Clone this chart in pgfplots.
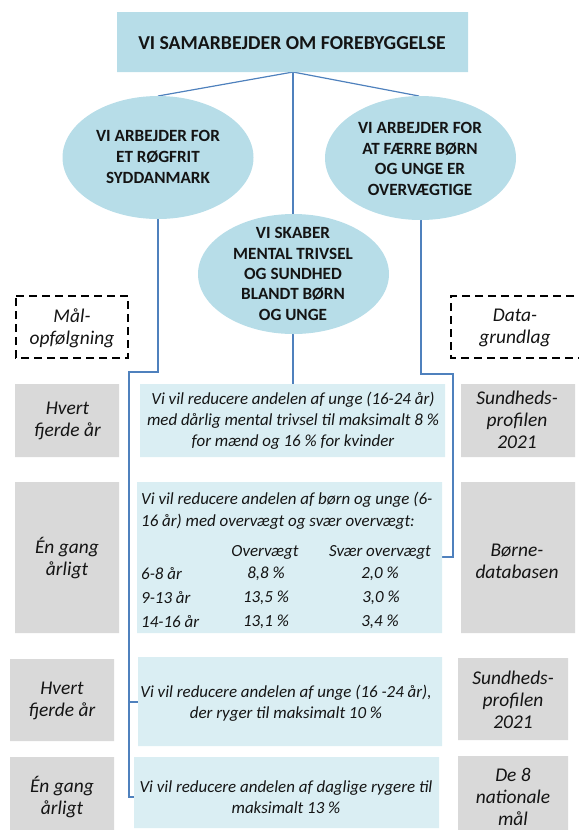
\documentclass[border=0pt]{standalone}
\usepackage{pgfplots}
\pgfplotsset{compat=1.18}
\usepackage{fontspec}
\setmainfont{Carlito}
\definecolor{ell}{RGB}{183,221,232}
\definecolor{lbox}{RGB}{218,238,243}
\definecolor{gbox}{RGB}{217,217,217}
\definecolor{con}{RGB}{79,129,189}
\definecolor{txt}{RGB}{20,20,20}
\begin{document}
\begin{tikzpicture}
\path[use as bounding box] (0,0) rectangle (579bp,830bp);
\clip (0,0) rectangle (579bp,830bp);
\begin{axis}[width=579bp,height=830bp,scale only axis,
  xmin=0,xmax=579,ymin=0,ymax=830,y dir=reverse,hide axis,clip=false]
% connector lines
\addplot[con,line width=1.2bp] coordinates {(158,96) (293,72) (419,96)};
\addplot[con,line width=1.2bp] coordinates {(293,72) (293,214)};
\addplot[con,line width=1.2bp] coordinates {(158,219) (158,372) (129,372) (129,797) (135,797)};
\addplot[con,line width=1.2bp] coordinates {(129,702) (138,702)};
\addplot[con,line width=1.2bp] coordinates {(421,220) (421,374) (453,374) (453,557) (442,557)};
\addplot[con,line width=1.2bp] coordinates {(293,334) (293,384)};
% top box
\addplot[fill=ell,draw=none] coordinates {(117,12) (468,12) (468,72) (117,72) (117,12)};
% ellipses
\fill[ell] (axis cs:158,157.5) ellipse [x radius=95.5bp, y radius=61.5bp];
\fill[ell] (axis cs:420.5,158) ellipse [x radius=95.5bp, y radius=62bp];
\fill[ell] (axis cs:293.5,274) ellipse [x radius=95.5bp, y radius=60bp];
% light blue boxes
\addplot[fill=lbox,draw=none] coordinates {(140,384) (445,384) (445,457) (140,457) (140,384)};
\addplot[fill=lbox,draw=none] coordinates {(137,482) (442,482) (442,633) (137,633) (137,482)};
\addplot[fill=lbox,draw=none] coordinates {(138,657) (442,657) (442,746) (138,746) (138,657)};
\addplot[fill=lbox,draw=none] coordinates {(134,757) (439,757) (439,828) (134,828) (134,757)};
% grey boxes left
\addplot[fill=gbox,draw=none] coordinates {(15,384) (119,384) (119,457) (15,457) (15,384)};
\addplot[fill=gbox,draw=none] coordinates {(15,482) (119,482) (119,633) (15,633) (15,482)};
\addplot[fill=gbox,draw=none] coordinates {(10,659) (114,659) (114,741) (10,741) (10,659)};
\addplot[fill=gbox,draw=none] coordinates {(10,757) (114,757) (114,830) (10,830) (10,757)};
% grey boxes right
\addplot[fill=gbox,draw=none] coordinates {(461,384) (575,384) (575,457) (461,457) (461,384)};
\addplot[fill=gbox,draw=none] coordinates {(461,482) (575,482) (575,633) (461,633) (461,482)};
\addplot[fill=gbox,draw=none] coordinates {(458,658) (568,658) (568,740) (458,740) (458,658)};
\addplot[fill=gbox,draw=none] coordinates {(458,756) (568,756) (568,830) (458,830) (458,756)};
% dashed boxes
\addplot[black,line width=2.7bp,dash pattern=on 8bp off 5bp] coordinates {(16,296) (128,296) (128,358) (16,358) (16,296)};
\addplot[black,line width=2.7bp,dash pattern=on 8bp off 5bp] coordinates {(600,296) (451,296) (451,358) (600,358)};
% texts
\node[txt,font=\fontsize{19.8}{22}\selectfont\bfseries] at (axis cs:292,43) {VI SAMARBEJDER OM FOREBYGGELSE};
\node[txt,align=center,font=\fontsize{17.2}{20.7}\selectfont\bfseries] at (axis cs:158,157) {VI ARBEJDER FOR\\ET RØGFRIT\\SYDDANMARK};
\node[txt,align=center,font=\fontsize{17.2}{20.7}\selectfont\bfseries] at (axis cs:420,159) {VI ARBEJDER FOR\\AT FÆRRE BØRN\\OG UNGE ER\\OVERVÆGTIGE};
\node[txt,align=center,font=\fontsize{17.2}{20.5}\selectfont\bfseries] at (axis cs:293,274) {VI SKABER\\MENTAL TRIVSEL\\OG SUNDHED\\BLANDT BØRN\\OG UNGE};
\node[txt,align=center,font=\fontsize{19.5}{22}\selectfont\itshape] at (axis cs:72,328) {Mål-\\opfølgning};
\node[txt,align=center,font=\fontsize{19.5}{22}\selectfont\itshape] at (axis cs:515,328) {Data-\\grundlag};
\node[txt,align=center,font=\fontsize{19.5}{22}\selectfont\itshape] at (axis cs:67.5,421) {Hvert\\fjerde år};
\node[txt,align=center,font=\fontsize{19.5}{22}\selectfont\itshape] at (axis cs:517,420) {Sundheds-\\profilen\\2021};
\node[txt,align=center,font=\fontsize{19.5}{22}\selectfont\itshape] at (axis cs:67,558) {Én gang\\årligt};
\node[txt,align=center,font=\fontsize{19.5}{22}\selectfont\itshape] at (axis cs:517,561) {Børne-\\databasen};
\node[txt,align=center,font=\fontsize{19.5}{22}\selectfont\itshape] at (axis cs:62,701) {Hvert\\fjerde år};
\node[txt,align=center,font=\fontsize{19.5}{22}\selectfont\itshape] at (axis cs:513,700) {Sundheds-\\profilen\\2021};
\node[txt,align=center,font=\fontsize{19.5}{22}\selectfont\itshape] at (axis cs:62,797) {Én gang\\årligt};
\node[txt,align=center,font=\fontsize{19.5}{22}\selectfont\itshape] at (axis cs:513,797) {De 8\\nationale\\mål};
\node[txt,align=center,font=\fontsize{17}{21}\selectfont\itshape] at (axis cs:293,421) {Vi vil reducere andelen af unge (16-24 år)\\med dårlig mental trivsel til maksimalt 8 \%\\for mænd og 16 \% for kvinder};
\node[txt,align=center,font=\fontsize{17}{21}\selectfont\itshape] at (axis cs:286,703) {Vi vil reducere andelen af unge (16 -24 år),\\der ryger til maksimalt 10 \%};
\node[txt,align=center,font=\fontsize{17}{21}\selectfont\itshape] at (axis cs:286,797) {Vi vil reducere andelen af daglige rygere til\\maksimalt 13 \%};
% table box
\begin{scope}[every node/.style={txt,font=\fontsize{17}{21}\selectfont\itshape,inner sep=0pt}]
\node[anchor=west] at (axis cs:141,500) {Vi vil reducere andelen af børn og unge (6-};
\node[anchor=west] at (axis cs:141,522) {16 år) med overvægt og svær overvægt:};
\node at (axis cs:265,552) {Overvægt};
\node at (axis cs:380,552) {Svær overvægt};
\node[anchor=west] at (axis cs:141,574) {6-8 år};
\node[anchor=west] at (axis cs:141,598) {9-13 år};
\node[anchor=west] at (axis cs:141,622) {14-16 år};
\node at (axis cs:266,574) {8,8 \%};
\node at (axis cs:266,598) {13,5 \%};
\node at (axis cs:266,622) {13,1 \%};
\node at (axis cs:380,574) {2,0 \%};
\node at (axis cs:381,598) {3,0 \%};
\node at (axis cs:380,622) {3,4 \%};
\end{scope}
\end{axis}
\end{tikzpicture}
\end{document}
